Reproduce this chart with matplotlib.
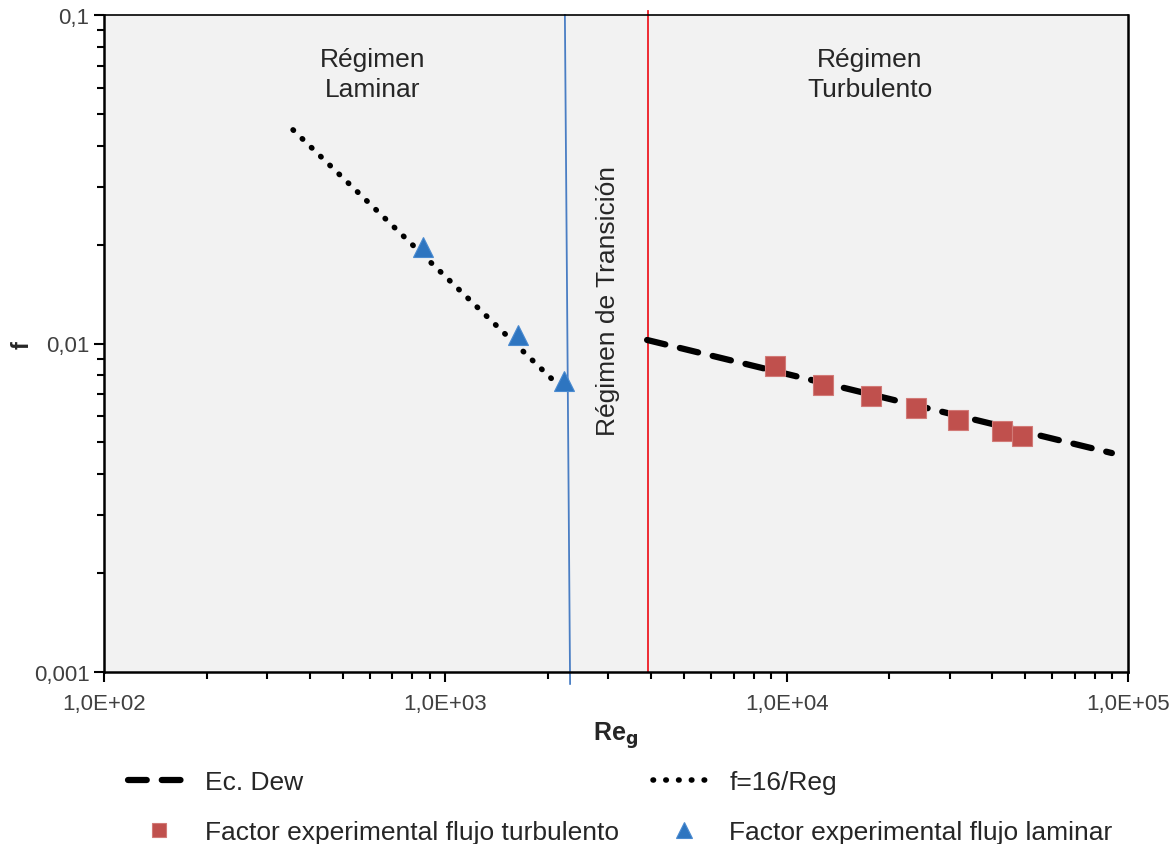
import matplotlib
matplotlib.use("Agg")
import matplotlib.pyplot as plt
from matplotlib.ticker import FixedLocator, LogLocator, NullFormatter

plt.rcParams['font.family'] = ['Liberation Sans', 'DejaVu Sans']

# Data
dew_re = [3900, 89700]
dew_f = [0.01025, 0.00464]
lam_re = [358, 2210]
lam_f = [0.0447, 0.00724]
turb_re = [9250, 12760, 17700, 23950, 31800, 42760, 48950]
turb_f = [0.00852, 0.00747, 0.00691, 0.00636, 0.00586, 0.00543, 0.00522]
lamexp_re = [862, 1636, 2232]
lamexp_f = [0.01963, 0.01063, 0.0077]
blue_re = [2240, 2320]
blue_f = [0.1, 0.00092]
red_re = [3920, 3920]
red_f = [0.103, 0.001]
xticks = [1e2, 1e3, 1e4, 1e5]
xticklabels = ['1,0E+02', '1,0E+03', '1,0E+04', '1,0E+05']
yticks = [0.001, 0.01, 0.1]
yticklabels = ['0,001', '0,01', '0,1']

fig = plt.figure(figsize=(11.75, 8.45), dpi=100)
ax = fig.add_axes([104/1175, 1-673/845, (1128-104)/1175, (673-16)/845])
ax.set_facecolor('#f2f2f2')
ax.set_xscale('log')
ax.set_yscale('log')
ax.set_xlim(1e2, 1e5)
ax.set_ylim(1e-3, 1e-1)

ax.plot(blue_re, blue_f, color='#4a7ec4', lw=1.3, clip_on=False, zorder=2)
ax.plot(red_re, red_f, color='#ee1c25', lw=1.3, clip_on=False, zorder=2)
l1, = ax.plot(dew_re, dew_f, color='black', lw=4.5, ls=(0, (3.0, 2.4)), dash_capstyle='round', zorder=3, label='Ec. Dew')
l2, = ax.plot(lam_re, lam_f, color='black', lw=4, ls=(0, (0.1, 2.2)), dash_capstyle='round', zorder=3, label='f=16/Reg')
s1, = ax.plot(turb_re, turb_f, ls='none', marker='s', ms=14, color='#c0504d', mec='#d27a77', mew=0.8, zorder=4,
              label='Factor experimental flujo turbulento')
s2, = ax.plot(lamexp_re, lamexp_f, ls='none', marker='^', ms=15, color='#2e75c0', mec='#4a8ad0', mew=0.8, zorder=4,
              label='Factor experimental flujo laminar')

ax.xaxis.set_major_locator(FixedLocator(xticks))
ax.set_xticklabels(xticklabels)
ax.yaxis.set_major_locator(FixedLocator(yticks))
ax.set_yticklabels(yticklabels)
ax.xaxis.set_minor_locator(LogLocator(base=10, subs=range(2, 10)))
ax.yaxis.set_minor_locator(LogLocator(base=10, subs=range(2, 10)))
ax.xaxis.set_minor_formatter(NullFormatter())
ax.yaxis.set_minor_formatter(NullFormatter())
ax.tick_params(which='both', direction='out', colors='black', labelcolor='#404040', labelsize=16, width=1.5)
ax.tick_params(which='major', length=7)
ax.tick_params(which='minor', length=5)
ax.tick_params(axis='x', pad=8)
for s in ax.spines.values():
    s.set_color('black')
    s.set_linewidth(1.8)
ax.spines['top'].set_linewidth(1.2)

ax.set_xlabel('Re$_\\mathbf{g}$', fontsize=18, fontweight='bold', color='#262626', labelpad=4)
fig.text(22/1175, 1-345/845, 'f', rotation=90, ha='center', va='center', fontsize=17,
         fontweight='bold', color='#262626')

tc = '#262626'
ax.text((373-104)/1024, 1-(75-16)/657, 'Régimen\nLaminar', transform=ax.transAxes, ha='center', va='center',
        fontsize=19, color=tc, linespacing=1.35)
ax.text((870-104)/1024, 1-(75-16)/657, 'Régimen\nTurbulento', transform=ax.transAxes, ha='center', va='center',
        fontsize=19, color=tc, linespacing=1.35)
ax.text((608-104)/1024, 1-(301-16)/657, 'Régimen de Transición', transform=ax.transAxes, ha='center', va='center',
        rotation=90, fontsize=19, color=tc)

leg = fig.legend(handles=[l1, s1, l2, s2], loc='upper left', bbox_to_anchor=(128/1175, 1-771/845),
                 ncol=2, frameon=False, fontsize=19, handlelength=2.35, handletextpad=0.55,
                 columnspacing=1.3, labelspacing=1.0, markerscale=0.75, borderaxespad=0, borderpad=0)
for t in leg.get_texts():
    t.set_color(tc)

fig.savefig('out.png', dpi=100)
